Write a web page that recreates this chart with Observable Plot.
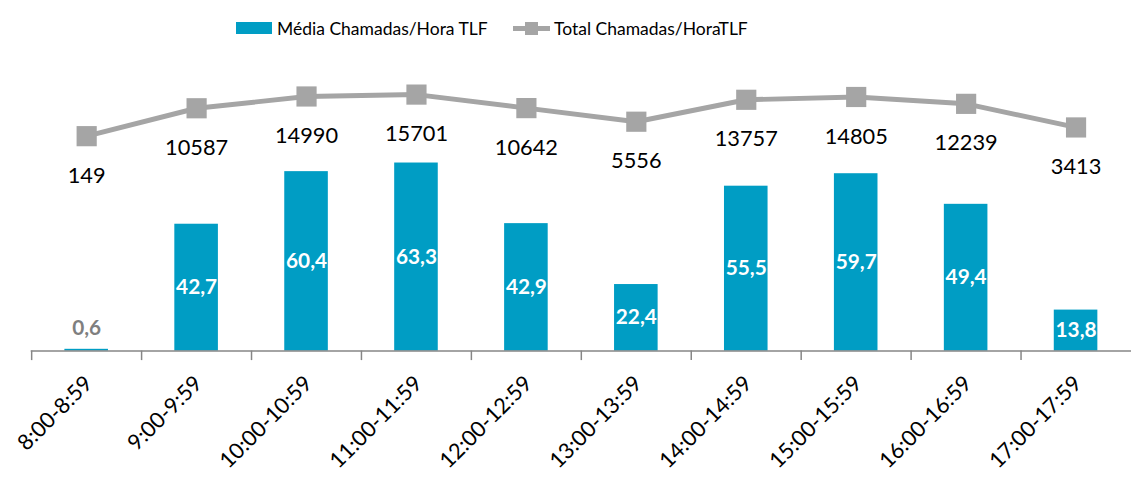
<!DOCTYPE html>
<html>
<head>
<meta charset="utf-8">
<script src="https://cdn.jsdelivr.net/npm/d3@7"></script>
<script src="https://cdn.jsdelivr.net/npm/@observablehq/plot@0.6"></script>
<style>
  html, body { margin: 0; padding: 0; background: #fff; overflow: hidden; width: 1135px; height: 479px; }
  #wrap { position: relative; width: 1135px; height: 479px; }
  #legend { position: absolute; left: 0; top: 0; width: 1135px; height: 50px; font-family: Lato, sans-serif; font-size: 17.5px; color: #000; }
  .item { position: absolute; top: 14px; display: flex; align-items: center; height: 28px; white-space: nowrap; }
  .sw-bar { width: 36px; height: 12px; background: #009DC4; margin-right: 5px; }
  .sw-line { position: relative; width: 37px; height: 13px; margin-right: 4px; }
  .sw-line .l { position: absolute; left: 0; right: 0; top: 4px; height: 5px; background: #A5A5A5; }
  .sw-line .s { position: absolute; left: 12px; top: 0; width: 13px; height: 13px; background: #A5A5A5; }
  #chart { position: absolute; left: 0; top: 0; }
</style>
</head>
<body>
<div id="wrap">
  <div id="chart"></div>
  <div id="legend">
    <div class="item" style="left:236px"><div class="sw-bar"></div><span>Média Chamadas/Hora TLF</span></div>
    <div class="item" style="left:513px"><div class="sw-line"><div class="l"></div><div class="s"></div></div><span>Total Chamadas/HoraTLF</span></div>
  </div>
</div>
<script>
const categories = ["8:00-8:59","9:00-9:59","10:00-10:59","11:00-11:59","12:00-12:59","13:00-13:59","14:00-14:59","15:00-15:59","16:00-16:59","17:00-17:59"];
const mediaChamadas = [0.6, 42.7, 60.4, 63.3, 42.9, 22.4, 55.5, 59.7, 49.4, 13.8];
const totalChamadas = [149, 10587, 14990, 15701, 10642, 5556, 13757, 14805, 12239, 3413];

const barColor = "#009DC4";
const lineColor = "#A5A5A5";
const fmt = v => String(v).replace(".", ",");

const data = categories.map((c, i) => ({cat: c, media: mediaChamadas[i], total: totalChamadas[i]}));

// secondary (hidden) axis for the line series, mapped into the primary y units
const y2 = d3.scaleLinear().domain([0, 20000]).range([72.2, 90.2]);

const W = 1146;
const step = (1142 - 31) / categories.length;
const font = "Lato, sans-serif";

const chart = Plot.plot({
  width: W,
  height: 479,
  marginTop: 42,
  marginBottom: 125,
  marginLeft: 31,
  marginRight: W - 1142,
  style: {fontFamily: font, background: "transparent"},
  x: {domain: categories, paddingInner: 0.6, paddingOuter: 0.3, axis: null},
  y: {domain: [0, 104], axis: null},
  marks: [
    Plot.barY(data, {x: "cat", y: "media", fill: barColor}),
    Plot.ruleY([0], {stroke: "#868686", strokeWidth: 1.5}),
    Plot.ruleX(categories, {x: d => d, y1: 0, y2: -3.2, dx: -step / 2, stroke: "#868686", strokeWidth: 1.5}),
    Plot.text(data.filter(d => d.media >= 5), {x: "cat", y: d => d.media / 2, text: d => fmt(d.media), fill: "#fff", fontWeight: "bold", fontSize: 21}),
    Plot.text(data.filter(d => d.media < 5), {x: "cat", y: "media", text: d => fmt(d.media), fill: "#7F7F7F", fontWeight: "bold", fontSize: 21, dy: -21}),
    Plot.line(data, {x: "cat", y: d => y2(d.total), stroke: lineColor, strokeWidth: 5}),
    Plot.dot(data, {x: "cat", y: d => y2(d.total), symbol: "square", r: 11.5, fill: lineColor}),
    Plot.text(data, {x: "cat", y: d => y2(d.total), text: d => String(d.total), dy: 40, fontSize: 22, fill: "#000"}),
    Plot.text(categories, {x: d => d, y: 0, text: d => d, rotate: -45, textAnchor: "end", lineAnchor: "middle", dx: 2, dy: 29, fontSize: 22, fill: "#000"})
  ]
});
document.getElementById("chart").appendChild(chart);
</script>
</body>
</html>
